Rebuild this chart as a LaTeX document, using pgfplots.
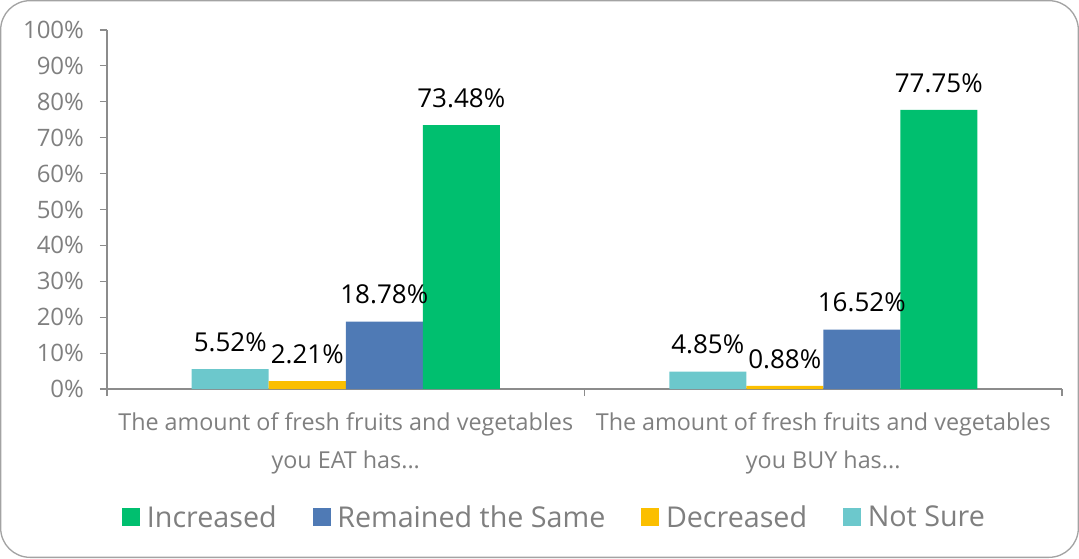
\documentclass[border=0pt]{standalone}
\usepackage{pgfplots}
\pgfplotsset{compat=1.18}
\usepackage{fontspec}
\setmainfont{Open Sans}
\definecolor{cInc}{HTML}{00BF6F}
\definecolor{cRem}{HTML}{4F7AB5}
\definecolor{cDec}{HTML}{FBBF00}
\definecolor{cNS}{HTML}{6CC8CC}
\definecolor{txtgray}{HTML}{7F7F7F}
\definecolor{axgray}{HTML}{8C8C8C}
\newcommand{\tdots}{...}
\begin{document}
\begin{tikzpicture}
\draw[color=axgray!80, line width=1pt, rounded corners=22pt] (0.5pt,0.5pt) rectangle (808.75pt,418pt);
\begin{axis}[
  at={(80.25pt,126.75pt)}, anchor=south west,
  scale only axis, width=716.25pt, height=269.25pt,
  ymin=0, ymax=100, xmin=-0.5, xmax=1.5,
  axis lines*=left,
  axis line style={axgray, line width=0.8pt},
  tick style={axgray, line width=0.8pt},
  tick align=outside, major tick length=5.25pt,
  ytick={0,10,20,30,40,50,60,70,80,90,100},
  yticklabels={0\%,10\%,20\%,30\%,40\%,50\%,60\%,70\%,80\%,90\%,100\%},
  yticklabel shift=8.5pt,
  xtick={-0.5,0.5,1.5},
  x tick label as interval,
  xticklabels={{The amount of fresh fruits and vegetables\\you EAT has\tdots},{The amount of fresh fruits and vegetables\\you BUY has\tdots}},
  x tick label style={align=center, font=\fontsize{17.5}{28.5}\selectfont, text=txtgray, yshift=-9pt},
  y tick label style={font=\fontsize{18}{20}\selectfont, text=txtgray},
  /pgf/number format/assume math mode=true,
  ybar=0pt, bar width=57.75pt,
  nodes near coords={\pgfmathprintnumber[fixed,fixed zerofill,precision=2]{\pgfplotspointmeta}\%},
  nodes near coords style={font=\fontsize{19.5}{24}\selectfont, text=black, yshift=9.5pt},
  reverse legend,
  legend columns=4,
  legend style={at={(0.469,-0.357)}, anchor=center, draw=none, font=\fontsize{21.5}{25}\selectfont, text=txtgray,
    /tikz/every odd column/.append style={column sep=3pt},
    /tikz/every even column/.append style={column sep=25pt}},
  legend image code/.code={\fill[#1] (0pt,-6.75pt) rectangle (13.5pt,6.75pt);},
]
\addplot[fill=cNS, draw=none, bar shift=-86.625pt] coordinates {(0,5.52) (1,4.85)};
\addlegendentry{Not Sure}
\addplot[fill=cDec, draw=none, bar shift=-28.875pt] coordinates {(0,2.21) (1,0.88)};
\addlegendentry{Decreased}
\addplot[fill=cRem, draw=none, bar shift=28.875pt] coordinates {(0,18.78) (1,16.52)};
\addlegendentry{Remained the Same}
\addplot[fill=cInc, draw=none, bar shift=86.625pt] coordinates {(0,73.48) (1,77.75)};
\addlegendentry{Increased}
\end{axis}
\end{tikzpicture}
\end{document}
